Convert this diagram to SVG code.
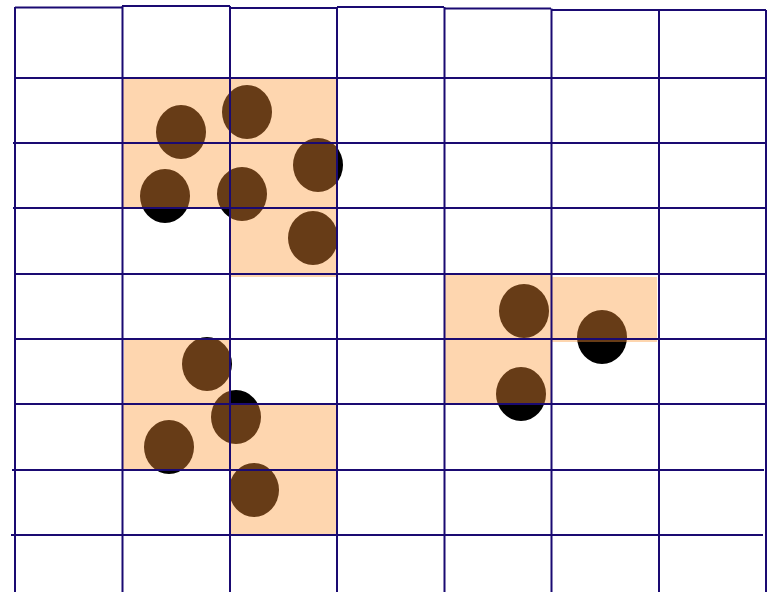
<svg xmlns="http://www.w3.org/2000/svg" width="771" height="592" viewBox="0 0 771 592">
<style>
.cell{fill:#fed6af}
.shadow{fill:#000}
.bean{fill:#673c17}
.grid line{stroke:#1a0a72;stroke-width:2}
</style>
<defs>
<clipPath id="cells">
<rect x="123" y="78" width="107" height="65"/>
<rect x="230" y="78" width="107" height="65"/>
<rect x="123" y="143" width="107" height="65"/>
<rect x="230" y="143" width="107" height="65"/>
<rect x="230" y="208" width="107" height="69"/>
<rect x="445" y="274" width="106" height="65"/>
<rect x="552" y="277" width="105" height="65"/>
<rect x="445" y="339" width="106" height="65"/>
<rect x="124" y="340" width="106" height="64"/>
<rect x="122" y="404" width="108" height="65"/>
<rect x="230" y="404" width="107" height="65"/>
<rect x="230" y="469" width="106" height="66"/>
</clipPath>
</defs>
<rect width="771" height="592" fill="#fff"/>
<g id="shadows">
<ellipse class="shadow" cx="181" cy="132" rx="25" ry="27"/>
<ellipse class="shadow" cx="247" cy="112" rx="25" ry="27"/>
<ellipse class="shadow" cx="318" cy="165" rx="25" ry="27"/>
<ellipse class="shadow" cx="165" cy="196" rx="25" ry="27"/>
<ellipse class="shadow" cx="242" cy="194" rx="25" ry="27"/>
<ellipse class="shadow" cx="313" cy="238" rx="25" ry="27"/>
<ellipse class="shadow" cx="524" cy="311" rx="25" ry="27"/>
<ellipse class="shadow" cx="602" cy="337" rx="25" ry="27"/>
<ellipse class="shadow" cx="521" cy="394" rx="25" ry="27"/>
<ellipse class="shadow" cx="207" cy="364" rx="25" ry="27"/>
<ellipse class="shadow" cx="236" cy="417" rx="25" ry="27"/>
<ellipse class="shadow" cx="169" cy="447" rx="25" ry="27"/>
<ellipse class="shadow" cx="254" cy="490" rx="25" ry="27"/>
</g>
<g id="cells-fill">
<rect class="cell" x="123" y="78" width="107" height="65"/>
<rect class="cell" x="230" y="78" width="107" height="65"/>
<rect class="cell" x="123" y="143" width="107" height="65"/>
<rect class="cell" x="230" y="143" width="107" height="65"/>
<rect class="cell" x="230" y="208" width="107" height="69"/>
<rect class="cell" x="445" y="274" width="106" height="65"/>
<rect class="cell" x="552" y="277" width="105" height="65"/>
<rect class="cell" x="445" y="339" width="106" height="65"/>
<rect class="cell" x="124" y="340" width="106" height="64"/>
<rect class="cell" x="122" y="404" width="108" height="65"/>
<rect class="cell" x="230" y="404" width="107" height="65"/>
<rect class="cell" x="230" y="469" width="106" height="66"/>
</g>
<g id="beans" clip-path="url(#cells)">
<ellipse class="bean" cx="181" cy="132" rx="25" ry="27"/>
<ellipse class="bean" cx="247" cy="112" rx="25" ry="27"/>
<ellipse class="bean" cx="318" cy="165" rx="25" ry="27"/>
<ellipse class="bean" cx="165" cy="196" rx="25" ry="27"/>
<ellipse class="bean" cx="242" cy="194" rx="25" ry="27"/>
<ellipse class="bean" cx="313" cy="238" rx="25" ry="27"/>
<ellipse class="bean" cx="524" cy="311" rx="25" ry="27"/>
<ellipse class="bean" cx="602" cy="337" rx="25" ry="27"/>
<ellipse class="bean" cx="521" cy="394" rx="25" ry="27"/>
<ellipse class="bean" cx="207" cy="364" rx="25" ry="27"/>
<ellipse class="bean" cx="236" cy="417" rx="25" ry="27"/>
<ellipse class="bean" cx="169" cy="447" rx="25" ry="27"/>
<ellipse class="bean" cx="254" cy="490" rx="25" ry="27"/>
</g>
<g id="grid" class="grid">
<line x1="15" y1="7.5" x2="122" y2="7.5"/>
<line x1="122" y1="6" x2="230" y2="6"/>
<line x1="230" y1="8" x2="337" y2="8"/>
<line x1="337" y1="7" x2="444" y2="7"/>
<line x1="444" y1="8.5" x2="551" y2="8.5"/>
<line x1="551" y1="10" x2="658" y2="10"/>
<line x1="658" y1="10" x2="766" y2="10"/>
<line x1="15" y1="78" x2="766" y2="78"/>
<line x1="13" y1="143" x2="766" y2="143"/>
<line x1="13" y1="208" x2="766" y2="208"/>
<line x1="15" y1="274" x2="766" y2="274"/>
<line x1="15" y1="339" x2="766" y2="339"/>
<line x1="15" y1="404" x2="766" y2="404"/>
<line x1="12" y1="470" x2="764" y2="470"/>
<line x1="11" y1="535" x2="763" y2="535"/>
<line x1="15" y1="7" x2="15" y2="592"/>
<line x1="122.5" y1="6" x2="122.5" y2="592"/>
<line x1="230" y1="6" x2="230" y2="592"/>
<line x1="337" y1="7" x2="337" y2="592"/>
<line x1="444.5" y1="7" x2="444.5" y2="592"/>
<line x1="551.5" y1="8.5" x2="551.5" y2="592"/>
<line x1="659" y1="10" x2="659" y2="592"/>
<line x1="766" y1="10" x2="766" y2="592"/>
</g>
</svg>
